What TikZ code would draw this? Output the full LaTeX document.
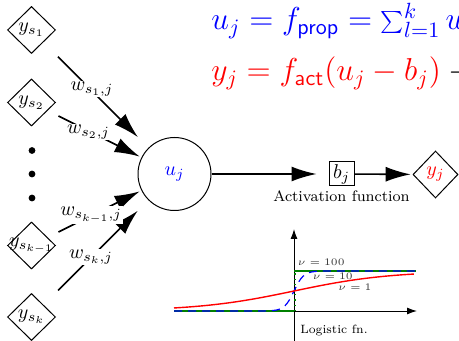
\documentclass[tikz,border=0pt]{standalone}
\usepackage{graphicx}
\usetikzlibrary{arrows.meta,shapes.geometric}
\begin{document}
\begin{tikzpicture}[x=0.5pt,y=-0.5pt,
  inp/.style={draw, shape=diamond, line width=0.5pt, minimum width=24pt, minimum height=23.5pt, inner sep=0pt},
  wire/.style={line width=0.8pt, -{Latex[length=12.5pt,width=7.5pt]}},
  wlab/.style={fill=white, inner sep=0.5pt},
  dotst/.style={circle, fill=black, inner sep=0pt, minimum size=3.4pt},
  eqst/.style={anchor=base west, inner sep=0pt, font=\Large},
  axisst/.style={line width=0.5pt, -{Latex[length=5pt,width=3.5pt]}},
  nulab/.style={anchor=west, inner sep=0pt, font=\tiny, text=black!80}
]
\useasboundingbox (0,0) rectangle (459,341);
\clip (0,0) rectangle (459,341);

% equations
\node[eqst, text=blue] (eq1) at (211,30) {\scalebox{1.1}{$u_j = f_{\mathsf{prop}} = \sum_{l=1}^k w$}};
\node[eqst, text=red] (eq2) at (211,81) {\scalebox{1.1}{$y_j = f_{\mathsf{act}}(u_j - b_j) \mathrel{\textcolor{black}{\to}}$}};

% inputs
\node[inp] (ys1) at (31.5,30) {\makebox[0pt]{$y_{s_1}$}};
\node[inp] (ys2) at (31.5,102.5) {\makebox[0pt]{$y_{s_2}$}};
\node[inp] (ysk1) at (31.5,245.5) {\makebox[0pt]{$y_{s_{k-1}}$}};
\node[inp] (ysk) at (31.5,317) {\makebox[0pt]{$y_{s_k}$}};
\node[dotst] (d1) at (32,150.5) {};
\node[dotst] (d2) at (32,174) {};
\node[dotst] (d3) at (32,198) {};

% neuron
\node[draw, circle, line width=0.5pt, minimum size=36.5pt, inner sep=0pt] (u) at (174.5,174) {\textcolor{blue}{$u_j$}};
\node[draw, rectangle, line width=0.5pt, minimum width=12.5pt, minimum height=12pt, inner sep=1pt] (b) at (341.5,174) {$b_j$};
\node[inp, minimum width=22.5pt] (yj) at (435.5,174.5) {\textcolor{red}{$y_j$}};
\node[anchor=base, inner sep=0pt, font=\footnotesize] (act) at (341.5,202) {\scalebox{0.95}{Activation function}};

% connectors
\draw[wire, shorten <=10.25pt, shorten >=7.5pt] (ys1) -- (u);
\draw[wire, shorten <=6pt, shorten >=1pt] (ys2) -- (u);
\draw[wire, shorten <=6pt, shorten >=1pt] (ysk1) -- (u);
\draw[wire, shorten <=10.25pt, shorten >=7.5pt] (ysk) -- (u);
\draw[wire, shorten >=6pt] (u) -- (b);
\draw[wire, shorten >=1pt] (b) -- (yj);

\node[wlab] (w1) at (92,89) {$w_{s_1,j}$};
\node[wlab] (w2) at (88.5,132) {$w_{s_2,j}$};
\node[wlab] (w3) at (91,215) {$w_{s_{k-1},j}$};
\node[wlab] (w4) at (91,257) {$w_{s_k,j}$};

% logistic plot
\draw[axisst] (174,311) -- (417,311);
\draw[axisst] (294,345) -- (294,229);
\draw[green!50!black, line width=0.6pt] (174,311) -- (294,311);
\draw[green!50!black, dotted, line width=0.6pt] (295,311) -- (295,271);
\draw[green!50!black, line width=0.6pt] (294,271) -- (416,271);
\draw[blue, line width=0.6pt, dash pattern=on 4pt off 3pt] (174,311) -- plot[domain=-0.8:0.8, samples=40] ({294+48*\x},{311-40/(1+exp(-10*\x))}) -- (416,271);
\draw[red, line width=0.7pt] plot[domain=-2.5:2.5, samples=60] ({294+48*\x},{311-40/(1+exp(-\x))});
\node[nulab] (n100) at (297.5,262) {$\nu = 100$};
\node[nulab] (n10) at (312.5,276) {$\nu = 10$};
\node[nulab] (n1) at (338,287) {$\nu = 1$};
\node[inner sep=0pt, font=\scriptsize] (lg) at (334,330) {\scalebox{0.86}{Logistic fn.}};
\end{tikzpicture}
\end{document}
